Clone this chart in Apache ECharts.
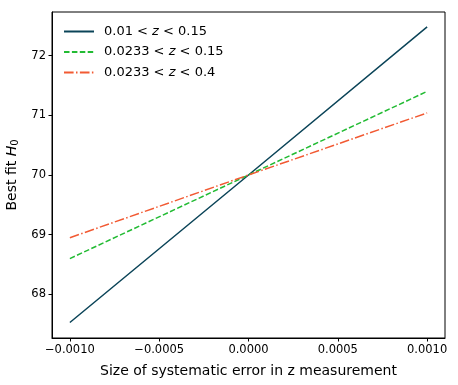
<!DOCTYPE html>
<html>
<head>
<meta charset="utf-8">
<script src="https://cdn.jsdelivr.net/npm/echarts@6/dist/echarts.min.js"></script>
<style>
  html, body { margin: 0; padding: 0; background: #fff; }
  #chart { width: 458px; height: 385px; }
</style>
</head>
<body>
<div id="chart"></div>
<script>
// systematic error offsets in z
var xValues = [-0.001, 0, 0.001];
// best fit H0 for each redshift cut
var h0Low = [67.53, 70.0, 72.48];     // 0.01 < z < 0.15
var h0Mid = [68.6, 70.0, 71.4];       // 0.0233 < z < 0.15
var h0Wide = [68.95, 70.0, 71.04];    // 0.0233 < z < 0.4
var xTicks = [-0.001, -0.0005, 0, 0.0005, 0.001];
var yTicks = [68, 69, 70, 71, 72];

var font = 'DejaVu Sans';

function pairs(ys) {
    var out = [];
    for (var i = 0; i < xValues.length; i++) {
        out.push([xValues[i], ys[i]]);
    }
    return out;
}

function fmtX(v) {
    var s = Math.abs(v).toFixed(4);
    return v < -1e-12 ? '\u2212' + s : s;
}

var legendRich = {
    sp: { width: 5 },
    n: { fontFamily: font, fontSize: 13, color: '#000' },
    i: { fontFamily: font, fontSize: 13, fontStyle: 'italic', color: '#000' }
};

var option = {
    animation: false,
    backgroundColor: '#fff',
    grid: {
        left: 52, top: 12, right: 13, bottom: 47,
        outerBoundsMode: 'none', containLabel: false,
        show: true, borderColor: '#000', borderWidth: 1
    },
    legend: {
        orient: 'vertical',
        left: 58, top: 20,
        itemWidth: 30, itemHeight: 14, itemGap: 7.5,
        itemStyle: { opacity: 0 },
        textStyle: { rich: legendRich },
        formatter: function (name) {
            var p = name.split('z');
            return '{sp|}{n|' + p[0] + '}{i|z}{n|' + p[1] + '}';
        },
        data: ['0.01 < z < 0.15', '0.0233 < z < 0.15', '0.0233 < z < 0.4']
    },
    xAxis: {
        type: 'value',
        min: -0.0011, max: 0.0011,
        name: 'Size of systematic error in z measurement',
        nameLocation: 'middle', nameGap: 26,
        nameTextStyle: { fontFamily: font, fontSize: 14, color: '#000' },
        axisLine: { show: true, onZero: false, lineStyle: { color: '#000' } },
        axisTick: { show: true, length: 3.5, customValues: xTicks, lineStyle: { color: '#000' } },
        axisLabel: {
            customValues: xTicks, margin: 6,
            fontFamily: font, fontSize: 11.5, color: '#000',
            formatter: fmtX
        },
        splitLine: { show: false }
    },
    yAxis: {
        type: 'value',
        min: 67.27, max: 72.73,
        name: 'Best fit {i|H}{s|0}',
        nameLocation: 'middle', nameGap: 27, nameRotate: 90,
        nameTextStyle: {
            fontFamily: font, fontSize: 14, color: '#000',
            rich: {
                i: { fontFamily: font, fontSize: 14, fontStyle: 'italic', color: '#000' },
                s: { fontFamily: font, fontSize: 10, color: '#000', verticalAlign: 'bottom', padding: [6, 0, 0, 0] }
            }
        },
        axisLine: { show: true, onZero: false, lineStyle: { color: '#000' } },
        axisTick: { show: true, length: 3.5, customValues: yTicks, lineStyle: { color: '#000' } },
        axisLabel: {
            customValues: yTicks, margin: 6,
            fontFamily: font, fontSize: 11.5, color: '#000'
        },
        splitLine: { show: false }
    },
    series: [
        {
            name: '0.01 < z < 0.15', type: 'line', symbol: 'none',
            color: '#0b4458',
            lineStyle: { color: '#0b4458', width: 1.5, type: 'solid' },
            data: pairs(h0Low)
        },
        {
            name: '0.0233 < z < 0.15', type: 'line', symbol: 'none',
            color: '#22bb33',
            lineStyle: { color: '#22bb33', width: 1.5, type: [5.5, 2.4] },
            data: pairs(h0Mid)
        },
        {
            name: '0.0233 < z < 0.4', type: 'line', symbol: 'none',
            color: '#f25a33',
            lineStyle: { color: '#f25a33', width: 1.5, type: [9.6, 2.4, 1.5, 2.4] },
            data: pairs(h0Wide)
        }
    ]
};

var myChart = echarts.init(document.getElementById('chart'));
myChart.setOption(option);
</script>
</body>
</html>
